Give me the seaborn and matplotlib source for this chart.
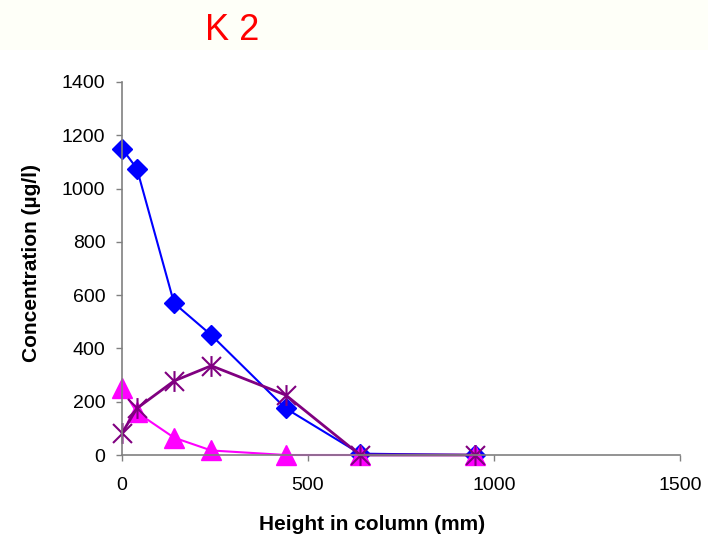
import pandas as pd
import matplotlib.pyplot as plt
import seaborn as sns
from matplotlib.patches import Rectangle
from matplotlib.path import Path

# Values
height_mm = [0, 40, 140, 240, 440, 640, 950]
series_blue = [1150, 1075, 570, 450, 175, 5, 0]
series_magenta = [250, 160, 65, 17, 0, 0, 0]
series_purple = [82, 175, 278, 335, 225, 0, 0]
x_ticks = [0, 500, 1000, 1500]
y_ticks = [0, 200, 400, 600, 800, 1000, 1200, 1400]

sns.set_style('white')
plt.rcParams['font.family'] = ['Liberation Sans', 'DejaVu Sans']
plt.rcParams['text.color'] = 'black'
plt.rcParams['axes.labelcolor'] = 'black'

# Excel-style star: an X with a vertical stroke
star = Path([(-1, -1), (1, 1), (-1, 1), (1, -1), (0, -1.1), (0, 1.1)],
            [Path.MOVETO, Path.LINETO, Path.MOVETO, Path.LINETO, Path.MOVETO, Path.LINETO])

df = pd.DataFrame({'Height': height_mm, 'blue': series_blue,
                   'magenta': series_magenta, 'purple': series_purple})

fig = plt.figure(figsize=(7.08, 5.48), dpi=100)
fig.patches.append(Rectangle((0, 1 - 50 / 548), 1, 50 / 548, transform=fig.transFigure,
                             facecolor='#FEFFF8', edgecolor='none', zorder=0))
ax = fig.add_axes([0.1723, 0.1697, 0.7882, 0.6807])

sns.lineplot(data=df, x='Height', y='blue', ax=ax, color='#0000FF', lw=1.5, clip_on=False,
             marker='D', markersize=10.5, markeredgecolor='#0000FF', markeredgewidth=1)
sns.lineplot(data=df, x='Height', y='magenta', ax=ax, color='#FF00FF', lw=1.5, clip_on=False,
             marker='^', markersize=14, markeredgecolor='#FF00FF', markeredgewidth=1)
sns.lineplot(data=df, x='Height', y='purple', ax=ax, color='#800080', lw=2, clip_on=False,
             marker=star, markersize=15, markeredgecolor='#800080', markeredgewidth=1.5)

ax.set_xlim(0, 1500)
ax.set_ylim(0, 1400)
ax.set_xticks(x_ticks)
ax.set_yticks(y_ticks)
ax.tick_params(labelsize=14, length=4, width=1, color='#808080', labelcolor='black',
               direction='out', bottom=True, left=True)
ax.tick_params(axis='x', pad=12)
ax.tick_params(axis='y', pad=8)
for s in ['top', 'right']:
    ax.spines[s].set_visible(False)
for s in ['left', 'bottom']:
    ax.spines[s].set_color('#808080')
    ax.spines[s].set_linewidth(1.2)
ax.set_xlabel('Height in column (mm)', fontsize=15, fontweight='bold', color='black')
ax.set_ylabel('Concentration (µg/l)', fontsize=15, fontweight='bold', color='black')
ax.xaxis.set_label_coords(0.448, -0.16)
ax.yaxis.set_label_coords(-0.145, 0.515)

fig.text(0.328, 0.945, 'K 2', color='#FF0000', fontsize=26, ha='center', va='center')

fig.savefig('out.png', dpi=100)
